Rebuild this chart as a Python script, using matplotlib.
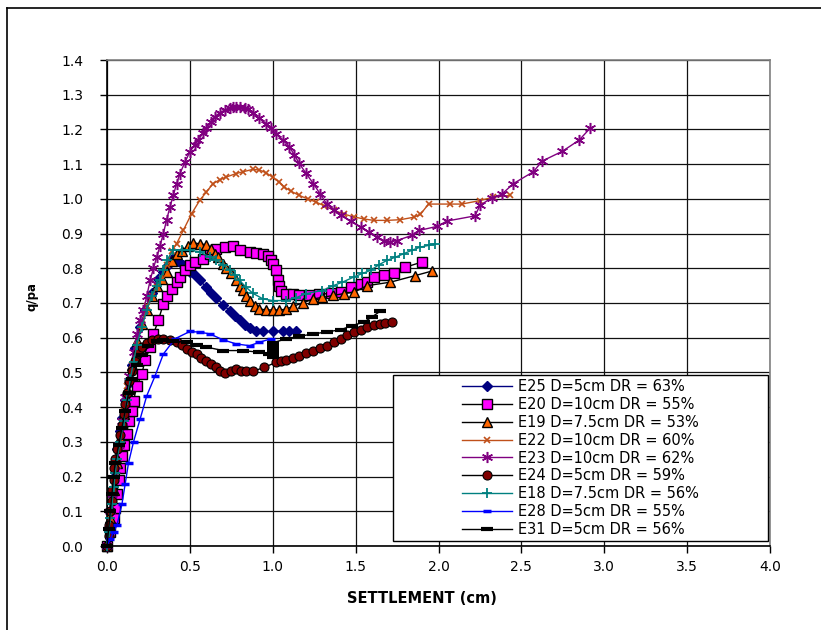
import matplotlib
matplotlib.use('Agg')
import matplotlib.pyplot as plt
import numpy as np
from matplotlib.patches import Rectangle
from matplotlib.lines import Line2D
from matplotlib.ticker import FormatStrFormatter

plt.rcParams['font.family'] = ['DejaVu Sans']

# settlement (cm) and q/pa
e25_x = [0, 0.01, 0.02, 0.03, 0.04, 0.05, 0.06, 0.08, 0.09, 0.11, 0.13, 0.15, 0.17, 0.20, 0.23, 0.27, 0.31,
         0.34, 0.37, 0.40, 0.43, 0.46, 0.50, 0.53, 0.56, 0.60, 0.63, 0.66, 0.70, 0.74, 0.77, 0.80, 0.83,
         0.86, 0.90, 0.94, 1.00, 1.06, 1.10, 1.14]
e25_y = [0, 0.05, 0.10, 0.15, 0.20, 0.24, 0.28, 0.33, 0.37, 0.42, 0.47, 0.52, 0.57, 0.63, 0.68, 0.73, 0.77,
         0.79, 0.81, 0.83, 0.82, 0.81, 0.79, 0.78, 0.765, 0.745, 0.73, 0.715, 0.695, 0.678, 0.663, 0.65, 0.638,
         0.628, 0.62, 0.618, 0.618, 0.62, 0.62, 0.618]

e20_x = [0, 0.02, 0.04, 0.05, 0.06, 0.07, 0.08, 0.09, 0.10, 0.12, 0.13, 0.15, 0.16, 0.18, 0.21, 0.23, 0.26,
         0.28, 0.31, 0.34, 0.36, 0.39, 0.42, 0.44, 0.47, 0.50, 0.53, 0.58, 0.62, 0.66, 0.71, 0.76, 0.80,
         0.86, 0.90, 0.94, 0.97, 0.99, 1.00, 1.02, 1.03, 1.04, 1.05, 1.08, 1.12, 1.16, 1.22, 1.28, 1.35,
         1.41, 1.47, 1.53, 1.57, 1.61, 1.67, 1.73, 1.80, 1.90]
e20_y = [0, 0.04, 0.08, 0.11, 0.15, 0.19, 0.226, 0.26, 0.29, 0.322, 0.36, 0.39, 0.419, 0.46, 0.496, 0.535, 0.572,
         0.61, 0.65, 0.698, 0.72, 0.741, 0.76, 0.775, 0.794, 0.81, 0.818, 0.828, 0.84, 0.856, 0.861, 0.863, 0.852,
         0.847, 0.845, 0.842, 0.835, 0.825, 0.813, 0.795, 0.765, 0.75, 0.735, 0.727, 0.725, 0.722, 0.722, 0.725, 0.728,
         0.731, 0.745, 0.755, 0.76, 0.775, 0.78, 0.786, 0.803, 0.818]

e19_x = [0, 0.02, 0.04, 0.06, 0.08, 0.10, 0.12, 0.15, 0.18, 0.21, 0.24, 0.27, 0.30, 0.33, 0.36, 0.39, 0.42,
         0.45, 0.49, 0.52, 0.56, 0.60, 0.63, 0.65, 0.67, 0.70, 0.72, 0.75, 0.78, 0.80, 0.82, 0.84, 0.86,
         0.89, 0.92, 0.96, 1.00, 1.04, 1.08, 1.12, 1.18, 1.245, 1.30, 1.365, 1.43, 1.49, 1.57, 1.71, 1.86, 1.96]
e19_y = [0, 0.08, 0.16, 0.24, 0.31, 0.38, 0.45, 0.52, 0.59, 0.64, 0.68, 0.72, 0.75, 0.77, 0.79, 0.82, 0.84,
         0.85, 0.865, 0.874, 0.87, 0.868, 0.856, 0.842, 0.832, 0.812, 0.80, 0.785, 0.765, 0.75, 0.738, 0.72, 0.707,
         0.69, 0.683, 0.68, 0.68, 0.68, 0.682, 0.69, 0.70, 0.712, 0.716, 0.722, 0.727, 0.731, 0.75, 0.76, 0.779, 0.792]

e22_x = [0, 0.02, 0.04, 0.06, 0.08, 0.10, 0.12, 0.15, 0.18, 0.21, 0.24, 0.27, 0.30, 0.33, 0.36, 0.39, 0.42,
         0.46, 0.51, 0.56, 0.60, 0.64, 0.68, 0.72, 0.78, 0.82, 0.88, 0.92, 0.96, 1.00, 1.04, 1.07, 1.11,
         1.16, 1.21, 1.26, 1.31, 1.37, 1.43, 1.49, 1.55, 1.61, 1.69, 1.77, 1.85, 1.89, 1.94, 2.07, 2.14,
         2.25, 2.33, 2.43]
e22_y = [0, 0.08, 0.16, 0.24, 0.32, 0.39, 0.46, 0.52, 0.58, 0.64, 0.69, 0.72, 0.745, 0.77, 0.81, 0.85, 0.871,
         0.909, 0.957, 0.996, 1.02, 1.044, 1.055, 1.063, 1.073, 1.078, 1.085, 1.083, 1.075, 1.062, 1.048, 1.034, 1.022,
         1.010, 1.0, 0.991, 0.98, 0.967, 0.956, 0.948, 0.942, 0.938, 0.938, 0.94, 0.947, 0.955, 0.985, 0.985, 0.985,
         0.995, 1.005, 1.01]

e23_x = [0, 0.01, 0.02, 0.03, 0.05, 0.07, 0.09, 0.11, 0.13, 0.16, 0.18, 0.20, 0.22, 0.24, 0.26, 0.28, 0.30,
         0.32, 0.34, 0.36, 0.38, 0.40, 0.42, 0.44, 0.47, 0.50, 0.53, 0.55, 0.58, 0.60, 0.63, 0.65, 0.68,
         0.71, 0.74, 0.76, 0.78, 0.80, 0.83, 0.85, 0.88, 0.92, 0.96, 0.99, 1.02, 1.06, 1.10, 1.13, 1.16,
         1.20, 1.245, 1.285, 1.325, 1.37, 1.41, 1.47, 1.53, 1.58, 1.63, 1.67, 1.71, 1.75, 1.84, 1.884, 1.993,
         2.05, 2.22, 2.25, 2.321, 2.381, 2.452, 2.572, 2.626, 2.747, 2.848, 2.914]
e23_y = [0, 0.05, 0.10, 0.15, 0.22, 0.29, 0.36, 0.43, 0.49, 0.56, 0.61, 0.65, 0.68, 0.72, 0.765, 0.80, 0.832,
         0.865, 0.90, 0.94, 0.977, 1.01, 1.044, 1.073, 1.105, 1.136, 1.155, 1.169, 1.19, 1.203, 1.22, 1.236, 1.248,
         1.256, 1.262, 1.265, 1.265, 1.265, 1.263, 1.258, 1.246, 1.232, 1.217, 1.203, 1.188, 1.17, 1.150, 1.127, 1.102,
         1.074, 1.044, 1.015, 0.986, 0.968, 0.953, 0.935, 0.919, 0.905, 0.89, 0.88, 0.876, 0.88, 0.895, 0.909, 0.921,
         0.936, 0.951, 0.981, 1.003, 1.013, 1.044, 1.078, 1.109, 1.137, 1.169, 1.203]

e24_x = [0, 0.01, 0.01, 0.02, 0.03, 0.03, 0.04, 0.04, 0.05, 0.06, 0.08, 0.09, 0.10, 0.11, 0.12, 0.13, 0.15,
         0.17, 0.19, 0.21, 0.24, 0.27, 0.31, 0.34, 0.38, 0.42, 0.45, 0.48, 0.51, 0.54, 0.57, 0.60, 0.63,
         0.66, 0.68, 0.71, 0.75, 0.78, 0.81, 0.84, 0.88, 0.95, 1.02, 1.05, 1.08, 1.12, 1.16, 1.20, 1.245,
         1.285, 1.325, 1.37, 1.41, 1.45, 1.49, 1.53, 1.57, 1.61, 1.65, 1.68, 1.72]
e24_y = [0, 0.03, 0.06, 0.10, 0.13, 0.16, 0.19, 0.226, 0.25, 0.28, 0.32, 0.35, 0.38, 0.41, 0.44, 0.476, 0.505,
         0.534, 0.555, 0.572, 0.585, 0.592, 0.597, 0.597, 0.593, 0.587, 0.578, 0.568, 0.56, 0.553, 0.543, 0.534, 0.525,
         0.515, 0.505, 0.497, 0.505, 0.51, 0.505, 0.503, 0.503, 0.515, 0.529, 0.533, 0.536, 0.542, 0.548, 0.555, 0.563,
         0.57, 0.577, 0.587, 0.597, 0.607, 0.616, 0.623, 0.63, 0.636, 0.64, 0.643, 0.645]

e18_x = [0, 0.01, 0.02, 0.03, 0.04, 0.05, 0.06, 0.08, 0.10, 0.12, 0.14, 0.16, 0.18, 0.21, 0.24, 0.27, 0.30,
         0.32, 0.34, 0.36, 0.40, 0.45, 0.50, 0.56, 0.62, 0.66, 0.70, 0.74, 0.77, 0.80, 0.84, 0.88, 0.94,
         1.00, 1.08, 1.14, 1.20, 1.30, 1.365, 1.42, 1.49, 1.54, 1.59, 1.64, 1.69, 1.74, 1.79, 1.84, 1.89,
         1.94, 1.98]
e18_y = [0, 0.04, 0.08, 0.12, 0.17, 0.21, 0.25, 0.30, 0.36, 0.42, 0.48, 0.53, 0.58, 0.63, 0.68, 0.72, 0.75,
         0.765, 0.795, 0.823, 0.852, 0.852, 0.852, 0.847, 0.832, 0.823, 0.81, 0.794, 0.78, 0.765, 0.745, 0.728, 0.712,
         0.707, 0.707, 0.715, 0.727, 0.736, 0.75, 0.76, 0.775, 0.785, 0.794, 0.81, 0.823, 0.832, 0.842, 0.852, 0.861,
         0.866, 0.871]

e28_x = [0, 0.02, 0.04, 0.06, 0.09, 0.11, 0.13, 0.16, 0.20, 0.24, 0.29, 0.34, 0.41, 0.50, 0.56, 0.62, 0.70,
         0.78, 0.86, 0.92, 0.99]
e28_y = [0, 0.02, 0.04, 0.06, 0.12, 0.18, 0.24, 0.30, 0.366, 0.433, 0.49, 0.553, 0.597, 0.618, 0.616, 0.611, 0.594,
         0.582, 0.577, 0.587, 0.597]

e31_x = [0, 0.01, 0.02, 0.03, 0.04, 0.05, 0.07, 0.09, 0.11, 0.13, 0.15, 0.18, 0.21, 0.25, 0.30, 0.34, 0.40,
         0.48, 0.54, 0.60, 0.70, 0.82, 0.92, 0.98, 1.00, 1.00, 1.00, 1.00, 1.00, 1.08, 1.16, 1.245, 1.33,
         1.41, 1.48, 1.55, 1.60, 1.65]
e31_y = [0, 0.05, 0.10, 0.15, 0.20, 0.24, 0.29, 0.34, 0.39, 0.44, 0.48, 0.52, 0.55, 0.575, 0.59, 0.592, 0.59,
         0.587, 0.58, 0.573, 0.563, 0.563, 0.558, 0.553, 0.545, 0.555, 0.565, 0.575, 0.585, 0.597, 0.604, 0.611, 0.617,
         0.623, 0.635, 0.645, 0.66, 0.677]

series = [
    ('E25 D=5cm DR = 63%', e25_x, e25_y, dict(color='#000080', marker='D', ms=5.5, mfc='#000080', mec='#000080')),
    ('E20 D=10cm DR = 55%', e20_x, e20_y, dict(color='black', marker='s', ms=6.5, mfc='#FF00FF', mec='black', mew=1)),
    ('E19 D=7.5cm DR = 53%', e19_x, e19_y, dict(color='black', marker='^', ms=7.5, mfc='#FF6600', mec='black', mew=1)),
    ('E22 D=10cm DR = 60%', e22_x, e22_y, dict(color='#C0501A', marker='x', ms=5, mec='#C0501A', mew=1.2)),
    ('E23 D=10cm DR = 62%', e23_x, e23_y, dict(color='#800080', marker=(6, 2, 0), ms=8, mec='#800080', mew=1.1)),
    ('E24 D=5cm DR = 59%', e24_x, e24_y, dict(color='black', marker='o', ms=6.5, mfc='#800000', mec='black', mew=0.8)),
    ('E18 D=7.5cm DR = 56%', e18_x, e18_y, dict(color='#008080', marker='+', ms=7.5, mec='#008080', mew=1.3)),
    ('E28 D=5cm DR = 55%', e28_x, e28_y, dict(color='#0000FF', marker='_', ms=6, mec='#0000FF', mew=2.5)),
    ('E31 D=5cm DR = 56%', e31_x, e31_y, dict(color='black', marker='_', ms=8, mec='black', mew=3)),
]

fig = plt.figure(figsize=(8.21, 6.3), dpi=100)
ax = fig.add_axes([107 / 821, 1 - 546 / 630, 663 / 821, 486 / 630])

for i, (label, x, y, st) in enumerate(series):
    ax.plot(x, y, label=label, lw=1, clip_on=False, zorder=2 + i * 0.1, **st)

ax.set_xlim(0, 4)
ax.set_ylim(0, 1.4)
ax.set_xticks(np.arange(0, 4.01, 0.5))
ax.set_yticks(np.arange(0, 1.41, 0.1))
ax.xaxis.set_major_formatter(FormatStrFormatter('%.1f'))
ax.yaxis.set_major_formatter(FormatStrFormatter('%.1f'))
ax.grid(True, color='#111111', lw=0.9)
ax.set_axisbelow(True)
for s in ['top', 'right']:
    ax.spines[s].set_color('#808080')
    ax.spines[s].set_linewidth(1.2)
for s in ['left', 'bottom']:
    ax.spines[s].set_color('black')
    ax.spines[s].set_linewidth(1.2)
ax.tick_params(direction='out', length=5, width=1, labelsize=10, colors='black')
ax.tick_params(axis='y', pad=12)
ax.tick_params(axis='x', pad=5)

ax.set_xlabel('SETTLEMENT (cm)', fontsize=10.5, fontweight='bold')
ax.xaxis.set_label_coords(0.475, -0.092)
ax.set_ylabel('q/pa', fontsize=8.5, fontweight='bold')
ax.yaxis.set_label_coords(-0.103, 0.514)

# legend box like the Excel one
box = Rectangle((0.431, 0.0103), 0.566, 0.3423, transform=ax.transAxes,
                fc='white', ec='black', lw=1, zorder=4, clip_on=False)
ax.add_patch(box)
leg = ax.legend(loc='center', bbox_to_anchor=(0.714, 0.181), frameon=False, fontsize=10.5,
                labelspacing=0.2, handlelength=3.4, handletextpad=0.4, borderpad=0.2)
leg.set_zorder(5)

# outer chart frame (top and left visible)
fig.add_artist(Line2D([7 / 821, 1], [1 - 8 / 630, 1 - 8 / 630], color='black', lw=1.2))
fig.add_artist(Line2D([7 / 821, 7 / 821], [0, 1 - 8 / 630], color='black', lw=1.2))

fig.savefig('out.png', dpi=100)
